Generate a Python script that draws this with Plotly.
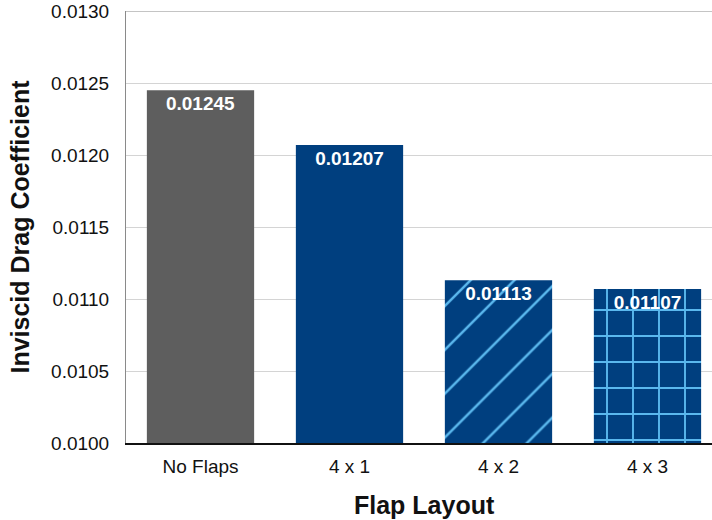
import plotly.graph_objects as go

categories = ["No Flaps", "4 x 1", "4 x 2", "4 x 3"]
drag = [0.01245, 0.01207, 0.01113, 0.01107]
labels = ["0.01245", "0.01207", "0.01113", "0.01107"]
bar_colors = ["#5e5e5e", "#003f7f", "#003f7f", "#003f7f"]
patterns = ["", "", "/", "+"]
pattern_sizes = [10, 10, 31, 26]
pattern_solidity = [0.1, 0.1, 0.08, 0.14]
y_ticks = [0.0100, 0.0105, 0.0110, 0.0115, 0.0120, 0.0125, 0.0130]
y_ticktext = ["0.0100", "0.0105", "0.0110", "0.0115", "0.0120", "0.0125", "0.0130"]
base_value = 0.0100
pattern_line_color = "#5ab8ee"

FONT = "Liberation Sans, Arial, Helvetica, sans-serif"

fig = go.Figure()
for cat, val, lab, col, shp, sz, sol in zip(categories, drag, labels, bar_colors,
                                              patterns, pattern_sizes, pattern_solidity):
    marker = dict(color=col, line=dict(width=0))
    if shp:
        marker["pattern"] = dict(shape=shp, fgcolor=pattern_line_color, bgcolor=col,
                                 fgopacity=1, size=sz, solidity=sol, fillmode="replace")
    fig.add_trace(go.Bar(
        x=[cat],
        y=[val - base_value],
        base=base_value,
        width=0.72,
        text=[lab],
        textposition="inside",
        insidetextanchor="end",
        textangle=0,
        textfont=dict(family=FONT, size=19, color="white", weight="bold"),
        marker=marker,
        hoverinfo="skip",
    ))

fig.add_shape(type="line", xref="paper", yref="y", x0=0, x1=1, y0=0.0130, y1=0.0130,
              line=dict(color="#8a8a8a", width=1))

fig.add_annotation(text="Flap Layout", xref="paper", yref="paper", x=0.51, y=-0.1435,
                   yanchor="middle", xanchor="center", showarrow=False,
                   font=dict(size=25, family=FONT, weight="bold", color="#111111"))

fig.update_layout(
    width=712, height=520,
    margin=dict(l=126, r=0, t=11, b=77),
    paper_bgcolor="white", plot_bgcolor="white",
    showlegend=False,
    barmode="overlay",
    font=dict(family=FONT, color="#111111"),
)
fig.update_xaxes(
    categoryorder="array", categoryarray=categories,
    range=[-0.5, 3.433],
    showline=True, linecolor="#111111", linewidth=1.5,
    tickfont=dict(size=19, family=FONT, color="#111111"),
    ticklabelstandoff=5,
    showgrid=False,
    ticks="", fixedrange=True,
)
fig.update_yaxes(
    range=[0.0100, 0.0130],
    tickvals=y_ticks, ticktext=y_ticktext,
    showline=True, linecolor="#8a8a8a", linewidth=1,
    showgrid=True, gridcolor="#d4d4d4", gridwidth=1.3,
    zeroline=False,
    tickfont=dict(size=19, family=FONT, color="#111111"),
    ticklabelstandoff=12,
    title=dict(text="Inviscid Drag Coefficient", font=dict(size=25, family=FONT, weight="bold", color="#111111"), standoff=14),
    ticks="",
)

fig.write_html("out.html")
